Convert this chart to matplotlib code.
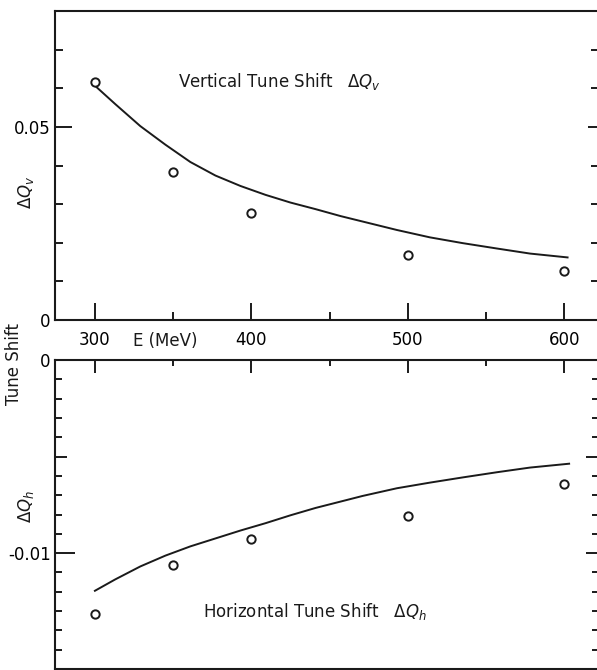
import matplotlib
matplotlib.use("Agg")
import matplotlib.pyplot as plt
from matplotlib.ticker import FixedLocator

# Data
energy = [300, 350, 400, 500, 600]
dqv_meas = [0.0615, 0.0384, 0.0277, 0.0168, 0.0128]
dqh_meas = [-0.01314, -0.01061, -0.00927, -0.00809, -0.00640]

energy_v_curve = [301, 313, 329, 345, 361, 377, 393, 409, 425, 441, 457,
                  471, 493, 514, 535, 557, 578, 602]
dqv_curve = [0.0603, 0.0559, 0.0502, 0.0454, 0.0409, 0.0374, 0.0347, 0.0324, 0.0304, 0.0287, 0.0269,
             0.0255, 0.0233, 0.0214, 0.0199, 0.0185, 0.0172, 0.0162]
energy_h_curve = [300, 313, 329, 345, 361, 377, 393, 409, 425, 441, 457,
                  471, 493, 514, 535, 557, 578, 603]
dqh_curve = [-0.01195, -0.01136, -0.01069, -0.01013, -0.00965, -0.00924, -0.00883, -0.00845,
             -0.00804, -0.00766, -0.00733, -0.00704, -0.00664, -0.00635, -0.00608, -0.00581,
             -0.00557, -0.00537]

W, H = 597, 670
ink = "#1a1a1a"
plt.rcParams["font.family"] = "DejaVu Sans"
plt.rcParams["mathtext.fontset"] = "dejavusans"

fig = plt.figure(figsize=(W / 100, H / 100), dpi=100)
fig.patch.set_facecolor("white")


def px(x, y):
    # pixel position -> figure fraction
    return x / W, 1 - y / H


def pt(n):
    # pixels -> points at 100 dpi
    return n * 0.72


ax_v = fig.add_axes([55 / W, 1 - 320 / H, 542.3 / W, 309 / H])
ax_h = fig.add_axes([55 / W, 1 - 669 / H, 542.3 / W, 309 / H])

for ax in (ax_v, ax_h):
    ax.set_xlim(274.5, 621)
    ax.spines["right"].set_visible(False)
    for s in ("left", "top", "bottom"):
        ax.spines[s].set_linewidth(1.5)
        ax.spines[s].set_color(ink)
    ax.set_facecolor("white")

# --- vertical tune shift ---
ax_v.plot(energy_v_curve, dqv_curve, color=ink, lw=1.4)
ax_v.plot(energy, dqv_meas, "o", mfc="none", mec=ink, ms=6, mew=1.4)
ax_v.set_ylim(0, 0.08)

ax_v.xaxis.set_major_locator(FixedLocator([300, 400, 500, 600]))
ax_v.xaxis.set_minor_locator(FixedLocator([350, 450, 550]))
ax_v.tick_params(axis="x", which="major", direction="in", length=pt(17), width=1.4,
                 color=ink, labelsize=12, pad=8, top=False)
ax_v.tick_params(axis="x", which="minor", direction="in", length=pt(8), width=1.4,
                 color=ink, top=False)

ax_v.yaxis.set_major_locator(FixedLocator([0, 0.05]))
ax_v.yaxis.set_minor_locator(FixedLocator([0.01, 0.02, 0.03, 0.04, 0.06, 0.07]))
ax_v.set_yticklabels(["0", "0.05"])
ax_v.tick_params(axis="y", which="major", direction="in", length=pt(17), width=1.4,
                 color=ink, labelsize=12, pad=3, right=True)
ax_v.tick_params(axis="y", which="minor", direction="in", length=pt(8), width=1.4,
                 color=ink, right=True)
for t in ax_v.yaxis.get_major_ticks():
    t.tick2line.set_markersize(pt(9))
for t in ax_v.yaxis.get_minor_ticks():
    t.tick2line.set_markersize(pt(6))

ax_v.text(*px(178, 82), r"Vertical Tune Shift   $\Delta Q_v$", transform=fig.transFigure,
          fontsize=12, color=ink, va="center", ha="left")

# --- horizontal tune shift ---
ax_h.plot(energy_h_curve, dqh_curve, color=ink, lw=1.4)
ax_h.plot(energy, dqh_meas, "o", mfc="none", mec=ink, ms=6, mew=1.4)
ax_h.set_ylim(-0.016, 0)

ax_h.xaxis.set_major_locator(FixedLocator([300, 400, 500, 600]))
ax_h.xaxis.set_minor_locator(FixedLocator([350, 450, 550]))
ax_h.tick_params(axis="x", which="major", direction="in", length=pt(13), width=1.4,
                 color=ink, top=True, bottom=False, labelbottom=False)
ax_h.tick_params(axis="x", which="minor", direction="in", length=pt(6), width=1.4,
                 color=ink, top=True, bottom=False)

ax_h.yaxis.set_major_locator(FixedLocator([0, -0.005, -0.01]))
ax_h.yaxis.set_minor_locator(FixedLocator([-0.001 * k for k in range(1, 16) if k not in (5, 10)]))
ax_h.set_yticklabels(["0", "", "-0.01"])
ax_h.tick_params(axis="y", which="major", direction="in", length=pt(12), width=1.4,
                 color=ink, labelsize=12, pad=3, right=True)
ax_h.tick_params(axis="y", which="minor", direction="in", length=pt(7), width=1.4,
                 color=ink, right=True)
for t in ax_h.yaxis.get_major_ticks():
    t.tick2line.set_markersize(pt(11))
ax_h.yaxis.get_major_ticks()[2].tick1line.set_markersize(pt(20))
for t in ax_h.yaxis.get_minor_ticks():
    t.tick2line.set_markersize(pt(5))

ax_h.text(*px(203, 611), r"Horizontal Tune Shift   $\Delta Q_h$", transform=fig.transFigure,
          fontsize=12, color=ink, va="center", ha="left")

# --- shared labels ---
fig.text(*px(165, 341), "E (MeV)", fontsize=12, color=ink, ha="center", va="center")
fig.text(*px(14, 364), "Tune Shift", fontsize=12, color=ink, rotation=90,
         ha="center", va="center")
fig.text(*px(26, 192), r"$\Delta Q_v$", fontsize=12, color=ink, rotation=90,
         ha="center", va="center")
fig.text(*px(26, 506), r"$\Delta Q_h$", fontsize=12, color=ink, rotation=90,
         ha="center", va="center")

fig.savefig("out.png", dpi=100, facecolor="white")
